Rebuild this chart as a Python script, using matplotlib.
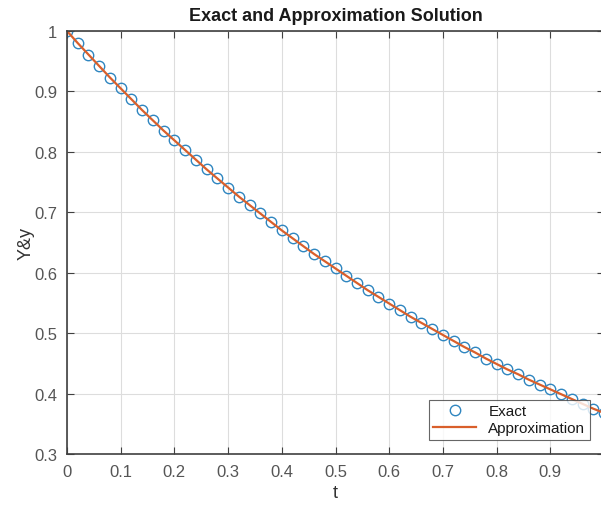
import numpy as np
import matplotlib
matplotlib.use("Agg")
import matplotlib.pyplot as plt

plt.rcParams['font.family'] = ['Liberation Sans', 'DejaVu Sans']

# t samples and values (step 0.02)
t = [0.00, 0.02, 0.04, 0.06, 0.08, 0.10, 0.12, 0.14, 0.16, 0.18,
     0.20, 0.22, 0.24, 0.26, 0.28, 0.30, 0.32, 0.34, 0.36, 0.38,
     0.40, 0.42, 0.44, 0.46, 0.48, 0.50, 0.52, 0.54, 0.56, 0.58,
     0.60, 0.62, 0.64, 0.66, 0.68, 0.70, 0.72, 0.74, 0.76, 0.78,
     0.80, 0.82, 0.84, 0.86, 0.88, 0.90, 0.92, 0.94, 0.96, 0.98, 1.00]
exact = [1.000, 0.980, 0.961, 0.942, 0.923, 0.905, 0.887, 0.869, 0.852, 0.835,
         0.819, 0.803, 0.787, 0.771, 0.756, 0.741, 0.726, 0.712, 0.698, 0.684,
         0.670, 0.657, 0.644, 0.631, 0.619, 0.607, 0.595, 0.583, 0.571, 0.560,
         0.549, 0.538, 0.527, 0.517, 0.507, 0.497, 0.487, 0.477, 0.468, 0.458,
         0.449, 0.440, 0.432, 0.423, 0.415, 0.407, 0.399, 0.391, 0.383, 0.375, 0.368]
approx = [1.000, 0.980, 0.961, 0.942, 0.923, 0.905, 0.887, 0.869, 0.852, 0.835,
          0.819, 0.803, 0.787, 0.771, 0.756, 0.741, 0.726, 0.712, 0.698, 0.684,
          0.670, 0.657, 0.644, 0.631, 0.619, 0.607, 0.595, 0.583, 0.571, 0.560,
          0.549, 0.538, 0.527, 0.517, 0.507, 0.497, 0.487, 0.477, 0.468, 0.458,
          0.449, 0.440, 0.432, 0.423, 0.415, 0.407, 0.399, 0.391, 0.383, 0.375, 0.368]

xticks = [0, 0.1, 0.2, 0.3, 0.4, 0.5, 0.6, 0.7, 0.8, 0.9, 1]
xticklabels = ["0", "0.1", "0.2", "0.3", "0.4", "0.5", "0.6", "0.7", "0.8", "0.9", "1"]
yticks = [0.3, 0.4, 0.5, 0.6, 0.7, 0.8, 0.9, 1]
yticklabels = ["0.3", "0.4", "0.5", "0.6", "0.7", "0.8", "0.9", "1"]

dark = "#404040"
fig = plt.figure(figsize=(6.01, 5.06), dpi=100)
ax = fig.add_axes([67/601, 51/506, 537/601, 423/506])

ax.plot(t, exact, 'o', mfc='none', mec='#2f86c0', ms=7.5, mew=1.0, label='Exact')
ax.plot(t, approx, '-', color='#d95f2b', lw=1.6, label='Approximation')

ax.set_xlim(0, 1)
ax.set_ylim(0.3, 1)
ax.set_xticks(xticks)
ax.set_xticklabels(xticklabels)
ax.set_yticks(yticks)
ax.set_yticklabels(yticklabels)
ax.grid(True, color='#dddddd', lw=0.8)
ax.tick_params(direction='in', top=True, right=True, length=5, width=0.8,
               colors=dark, labelsize=12, pad=7)
ax.tick_params(axis='x', labelcolor='#555555')
ax.tick_params(axis='y', labelcolor='#555555')
for s in ax.spines.values():
    s.set_color(dark)
    s.set_linewidth(1.2)

ax.set_title("Exact and Approximation Solution", fontsize=13, fontweight='bold',
             color='#1a1a1a', pad=8)
ax.set_xlabel("t", fontsize=13, color='#333333', labelpad=4)
ax.set_ylabel("Y&y", fontsize=13, color='#333333', labelpad=0)

leg = ax.legend(loc='lower right', bbox_to_anchor=(523/537, 14/423),
                fontsize=11, frameon=True, fancybox=False, borderaxespad=0,
                handlelength=2.8, labelspacing=0.2, borderpad=0.3)
leg.get_frame().set_edgecolor(dark)
leg.get_frame().set_linewidth(0.8)
for txt in leg.get_texts():
    txt.set_color('#1a1a1a')

fig.savefig("out.png", dpi=100)
